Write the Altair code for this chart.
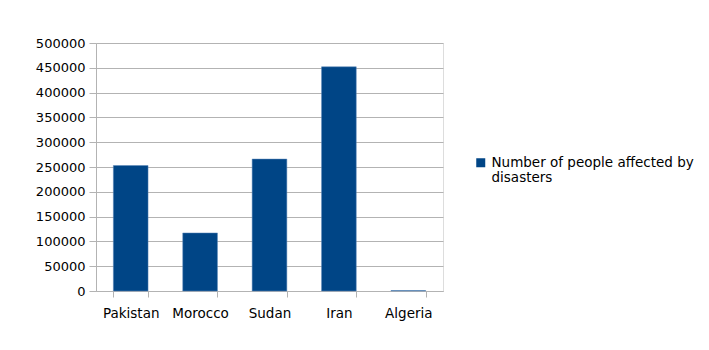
import altair as alt
import pandas as pd

countries = ["Pakistan", "Morocco", "Sudan", "Iran", "Algeria"]
affected = [253000, 117000, 266000, 452000, 1000]
series_name = "Number of people affected by disasters"
y_ticks = [0, 50000, 100000, 150000, 200000, 250000, 300000, 350000, 400000, 450000, 500000]

df = pd.DataFrame({"country": countries, "value": affected, "series": [series_name] * len(countries)})

FONT = "DejaVu Sans"
GRID = "#b3b3b3"

chart = alt.Chart(df).mark_bar(color="#004586", stroke="#5a86b8", strokeWidth=0.5).encode(
    x=alt.X("country:N", sort=countries, title=None,
            scale=alt.Scale(paddingInner=0.5, paddingOuter=0.25),
            axis=alt.Axis(labelAngle=0, tickBand="extent", tickSize=6, tickColor=GRID,
                          domainColor=GRID, labelPadding=9, grid=False,
                          labelFont=FONT, labelFontSize=13.5, labelColor="black")),
    y=alt.Y("value:Q", title=None,
            scale=alt.Scale(domain=[0, 500000], nice=False),
            axis=alt.Axis(values=y_ticks, format="d", tickSize=7, tickColor=GRID,
                          domainColor=GRID, gridColor=GRID, labelPadding=4,
                          labelFont=FONT, labelFontSize=13, labelColor="black")),
    color=alt.Color("series:N", scale=alt.Scale(range=["#004586"]), title=None,
                    legend=alt.Legend(orient="none", legendX=378, legendY=113,
                                      symbolType="square", symbolSize=81,
                                      symbolStrokeWidth=0,
                                      labelExpr="['Number of people affected by', 'disasters']",
                                      labelFontSize=13.5, labelFont=FONT, labelColor="black",
                                      labelOffset=4, labelLimit=400)),
).properties(
    width=347, height=248,
    autosize="none",
    padding={"left": 96, "top": 43, "right": 266, "bottom": 59},
).configure_view(
    stroke=GRID,
).configure(background="white")

chart.save("out.html", embed_options={"renderer": "svg", "actions": False})
